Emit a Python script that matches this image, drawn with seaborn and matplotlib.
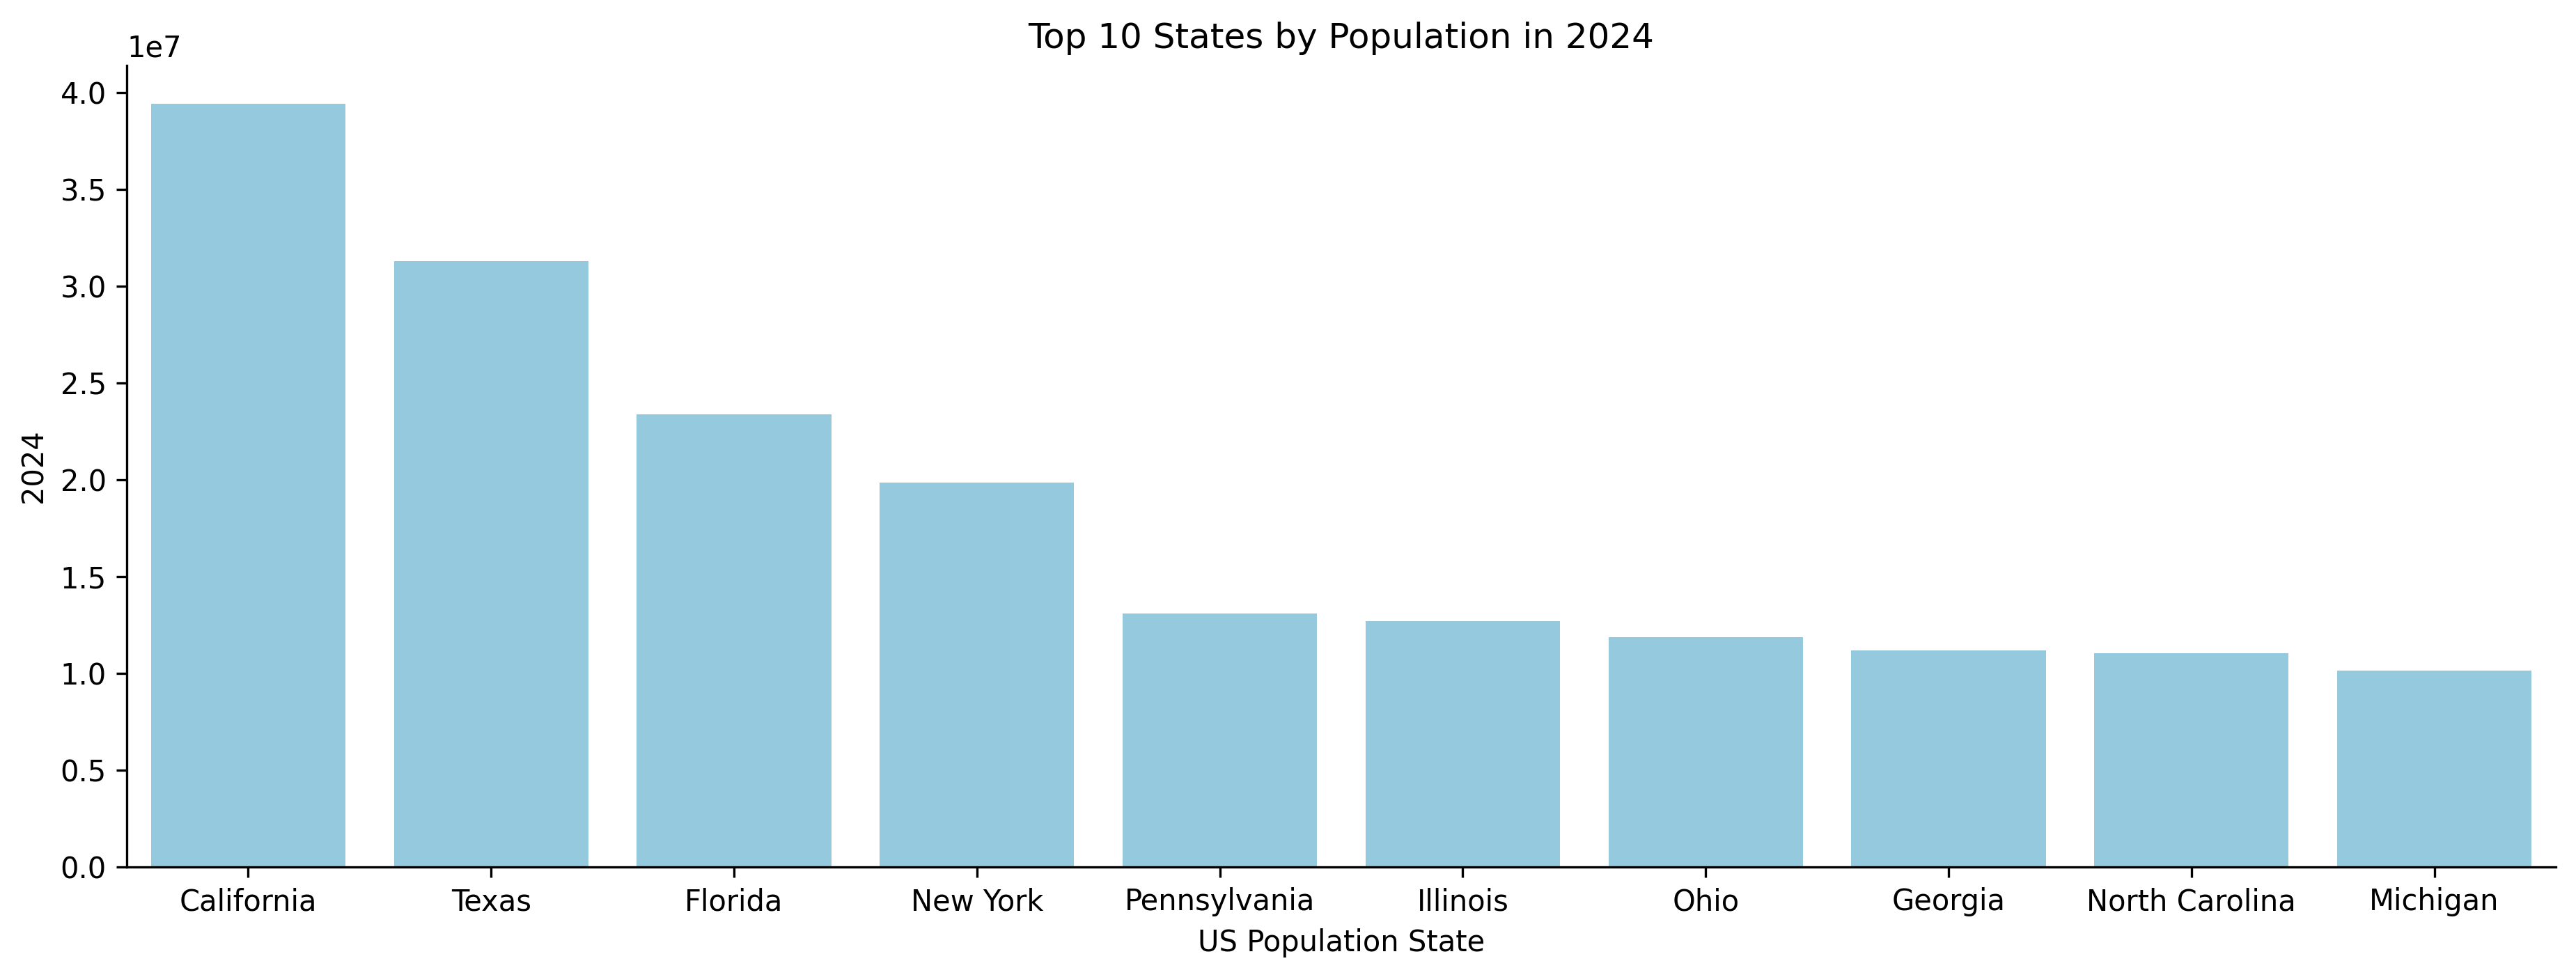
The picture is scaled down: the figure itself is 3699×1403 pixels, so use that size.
import matplotlib
matplotlib.use("Agg")
import matplotlib.pyplot as plt
import seaborn as sns
import pandas as pd

states = ["California", "Texas", "Florida", "New York", "Pennsylvania",
          "Illinois", "Ohio", "Georgia", "North Carolina", "Michigan"]
pop_2024 = [39431263, 31290831, 23372215, 19867248, 13078751,
            12710158, 11883304, 11180878, 11046024, 10140459]

df = pd.DataFrame({"US Population State": states, "2024": pop_2024})

fig, ax = plt.subplots(figsize=(3699 / 300, 1403 / 300), dpi=300)
sns.barplot(data=df, x="US Population State", y="2024", color="skyblue", ax=ax)
ax.set_title("Top 10 States by Population in 2024")
sns.despine(ax=ax)
fig.subplots_adjust(left=182 / 3699, right=3670 / 3699, top=1 - 94 / 1403, bottom=1 - 1245 / 1403)
fig.savefig("out.png", dpi=300)
